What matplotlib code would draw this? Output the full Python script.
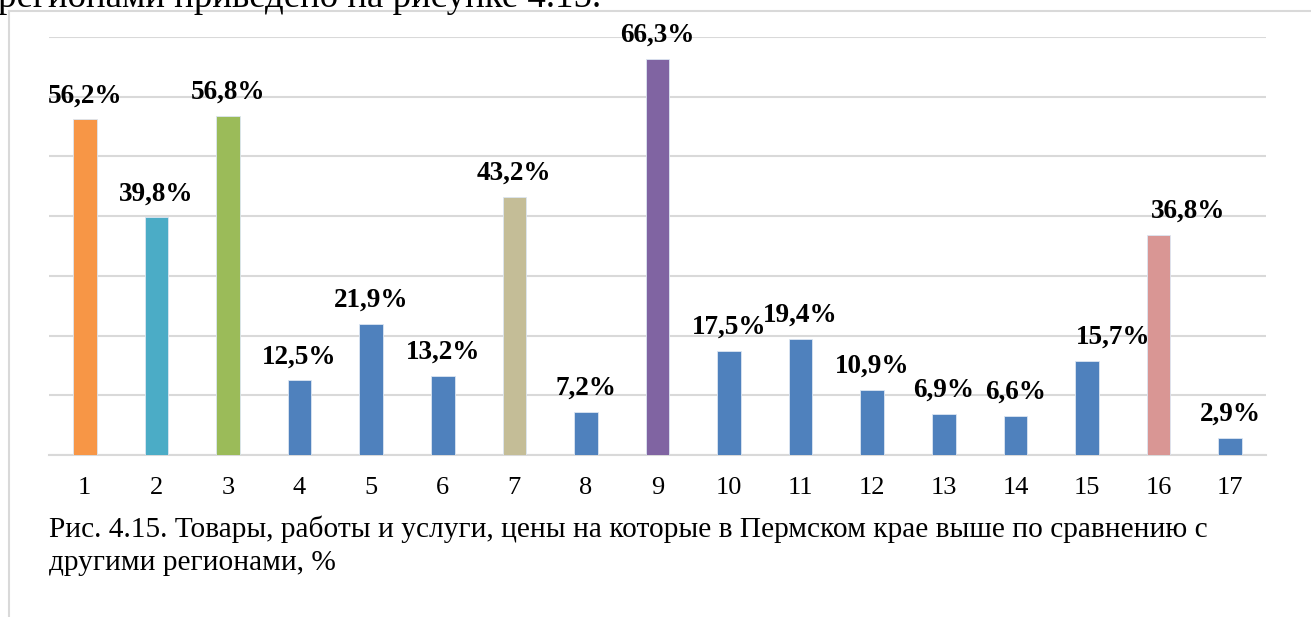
import matplotlib
matplotlib.use("Agg")
import matplotlib.pyplot as plt
from matplotlib.lines import Line2D

# chart data
categories = [str(i) for i in range(1, 18)]
values = [56.2, 39.8, 56.8, 12.5, 21.9, 13.2, 43.2, 7.2, 66.3,
          17.5, 19.4, 10.9, 6.9, 6.6, 15.7, 36.8, 2.9]
bar_colors = ["#F79646", "#4BACC6", "#9BBB59", "#4F81BD", "#4F81BD",
              "#4F81BD", "#C4BD97", "#4F81BD", "#8064A2", "#4F81BD",
              "#4F81BD", "#4F81BD", "#4F81BD", "#4F81BD", "#4F81BD",
              "#D99694", "#4F81BD"]
# a couple of labels sit a bit to the right of their bars
label_shift = {14: 19, 15: 21}

caption_lines = ["Рис. 4.15. Товары, работы и услуги, цены на которые в Пермском крае выше по сравнению с",
                 "другими регионами, %"]
top_text = "регионами приведено на рисунке 4.15."


def main():
    plt.rcParams["font.family"] = ["Liberation Serif", "DejaVu Serif"]

    fig = plt.figure(figsize=(13.11, 6.17), dpi=100)
    ax = fig.add_axes([49 / 1311, 1 - 455 / 617, 1217 / 1311, 418 / 617])

    x = range(len(values))
    ax.bar(x, values, width=0.33, color=bar_colors,
           edgecolor="#DCE6F2", linewidth=0.6, zorder=3)

    ax.set_xlim(-0.5, len(values) - 0.5)
    ax.set_ylim(0, 70)
    ax.set_yticks(range(0, 71, 10))
    ax.set_yticklabels([])
    ax.yaxis.grid(True, color="#D9D9D9", linewidth=1.5, zorder=0)
    ax.tick_params(axis="y", length=0)
    ax.set_xticks(list(x))
    ax.set_xticklabels(categories, fontsize=19)
    ax.tick_params(axis="x", length=0, pad=16)
    for side in ["top", "right", "left"]:
        ax.spines[side].set_visible(False)
    ax.spines["bottom"].set_color("#D9D9D9")
    ax.spines["bottom"].set_linewidth(1.5)

    # value labels
    for i, v in enumerate(values):
        label = f"{v:.1f}%".replace(".", ",")
        ax.annotate(label, (i, v), xytext=(label_shift.get(i, 0), 8),
                    textcoords="offset points", ha="center", va="bottom",
                    fontsize=19.5, fontweight="bold")

    # frame around the chart
    fig.add_artist(Line2D([9 / 1311, 9 / 1311], [0, 1 - 11 / 617],
                          color="#D9D9D9", linewidth=1.5))
    fig.add_artist(Line2D([9 / 1311, 1], [1 - 11 / 617, 1 - 11 / 617],
                          color="#D9D9D9", linewidth=1.5))

    # page text
    fig.text(-2 / 1311, 1 - 7 / 617, top_text, fontsize=26.6, va="baseline")
    fig.text(49 / 1311, 1 - 537 / 617, caption_lines[0], fontsize=21.2,
             va="baseline")
    fig.text(49 / 1311, 1 - 570 / 617, caption_lines[1], fontsize=21.2,
             va="baseline")

    fig.savefig("out.png", dpi=100)


if __name__ == "__main__":
    main()
